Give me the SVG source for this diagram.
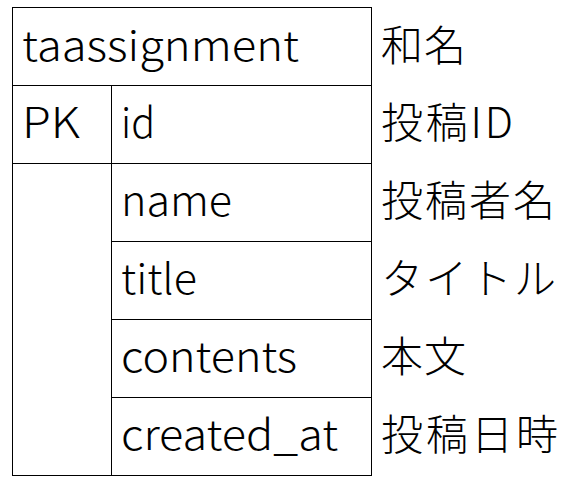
<svg xmlns="http://www.w3.org/2000/svg" width="579" height="493" viewBox="0 0 579 493">
<style>
.ln{stroke:#000;stroke-width:1;fill:none}
.t{font-family:"Noto Sans CJK JP","Noto Sans",sans-serif;font-size:42px;font-weight:300;fill:#000}
</style>
<rect width="579" height="493" fill="#fff"/>
<g id="table">
<rect class="ln" x="12.5" y="7.5" width="359" height="468"/>
<line class="ln" x1="12.5" y1="85.5" x2="371.5" y2="85.5"/>
<line class="ln" x1="12.5" y1="163.5" x2="371.5" y2="163.5"/>
<line class="ln" x1="111.5" y1="85.5" x2="111.5" y2="475.5"/>
<line class="ln" x1="111.5" y1="241.5" x2="371.5" y2="241.5"/>
<line class="ln" x1="111.5" y1="319.5" x2="371.5" y2="319.5"/>
<line class="ln" x1="111.5" y1="397.5" x2="371.5" y2="397.5"/>
</g>
<g id="header">
<text class="t" x="22" y="61" textLength="277" lengthAdjust="spacingAndGlyphs">taassignment</text>
<text class="t" x="381" y="61" textLength="85">和名</text>
</g>
<g id="row-id">
<text class="t" x="22" y="138" textLength="58" lengthAdjust="spacingAndGlyphs">PK</text>
<text class="t" x="121" y="138" textLength="34" lengthAdjust="spacingAndGlyphs">id</text>
<text class="t" x="381" y="138" textLength="132">投稿ID</text>
</g>
<g id="row-name">
<text class="t" x="121" y="216" textLength="111" lengthAdjust="spacingAndGlyphs">name</text>
<text class="t" x="381" y="216" textLength="174">投稿者名</text>
</g>
<g id="row-title">
<text class="t" x="121" y="294" textLength="76" lengthAdjust="spacingAndGlyphs">title</text>
<text class="t" x="381" y="294" textLength="175">タイトル</text>
</g>
<g id="row-contents">
<text class="t" x="121" y="372" textLength="176" lengthAdjust="spacingAndGlyphs">contents</text>
<text class="t" x="381" y="372" textLength="85">本文</text>
</g>
<g id="row-created">
<text class="t" x="121" y="450" textLength="217" lengthAdjust="spacingAndGlyphs">created_at</text>
<text class="t" x="381" y="450" textLength="177">投稿日時</text>
</g>
</svg>
